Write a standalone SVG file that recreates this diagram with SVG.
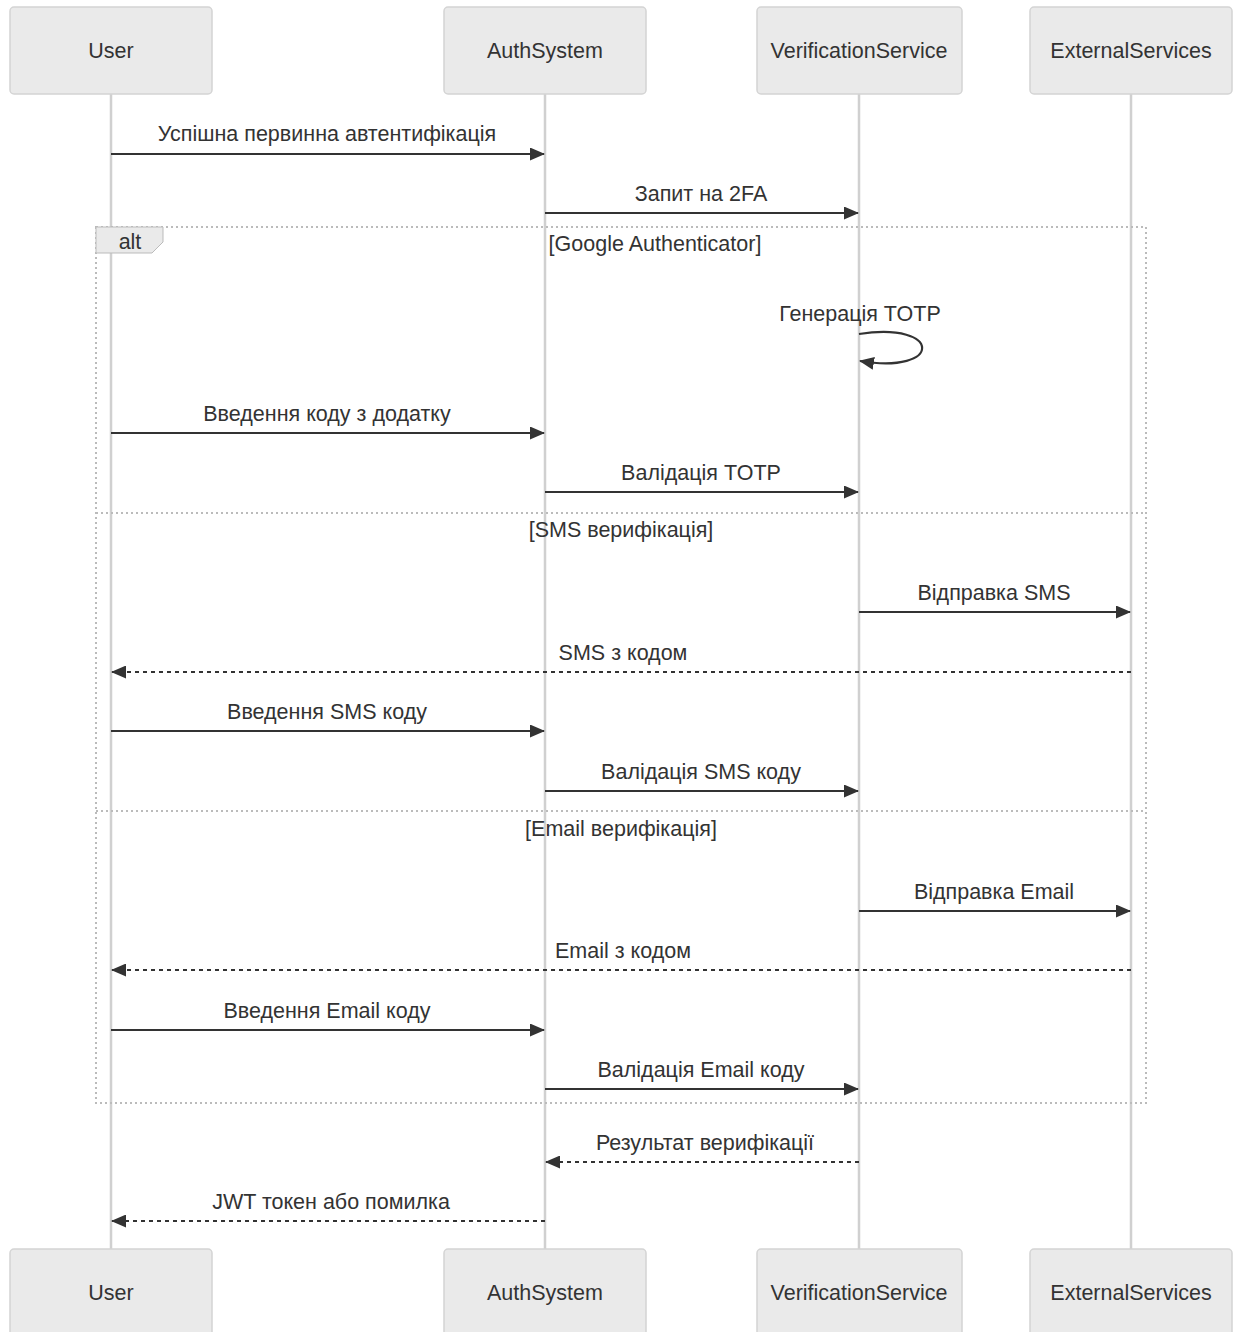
<svg xmlns="http://www.w3.org/2000/svg" width="1235" height="1332" viewBox="0 0 1235 1332">
<style>
.actor{fill:#eaeaea;stroke:#d4d4d4;stroke-width:1.5}
.atext{font-family:"Liberation Sans",Arial,sans-serif;font-size:21.5px;fill:#333;text-anchor:middle;dominant-baseline:central}
.life{stroke:#d0d0d0;stroke-width:2.5}
.msg{stroke:#333;stroke-width:2.2;fill:none}
.dash{stroke-dasharray:4 4}
.mtext{font-family:"Liberation Sans",Arial,sans-serif;font-size:21.5px;fill:#333;text-anchor:middle}
.loop{stroke:#bbb;stroke-width:2;fill:none;stroke-dasharray:2 3}
.ltext{font-family:"Liberation Sans",Arial,sans-serif;font-size:21.5px;fill:#333;text-anchor:middle}
</style>
<defs>
<marker id="arr" markerWidth="15" markerHeight="13" refX="14" refY="6.5" orient="auto" markerUnits="userSpaceOnUse">
<path d="M0,0 L15,6.5 L0,13 z" fill="#333"/>
</marker>
</defs>
<g id="lifelines">
<line class="life" x1="111" y1="94" x2="111" y2="1249"/>
<line class="life" x1="545" y1="94" x2="545" y2="1249"/>
<line class="life" x1="859" y1="94" x2="859" y2="1249"/>
<line class="life" x1="1131" y1="94" x2="1131" y2="1249"/>
</g>
<g id="actor-user-top"><rect class="actor" x="10" y="7" width="202" height="87" rx="4"/><text class="atext" x="111" y="51">User</text></g>
<g id="actor-auth-top"><rect class="actor" x="444" y="7" width="202" height="87" rx="4"/><text class="atext" x="545" y="51">AuthSystem</text></g>
<g id="actor-verif-top"><rect class="actor" x="757" y="7" width="205" height="87" rx="4"/><text class="atext" x="859" y="51">VerificationService</text></g>
<g id="actor-ext-top"><rect class="actor" x="1030" y="7" width="202" height="87" rx="4"/><text class="atext" x="1131" y="51">ExternalServices</text></g>
<g id="actor-user-bottom"><rect class="actor" x="10" y="1249" width="202" height="87" rx="4"/><text class="atext" x="111" y="1293">User</text></g>
<g id="actor-auth-bottom"><rect class="actor" x="444" y="1249" width="202" height="87" rx="4"/><text class="atext" x="545" y="1293">AuthSystem</text></g>
<g id="actor-verif-bottom"><rect class="actor" x="757" y="1249" width="205" height="87" rx="4"/><text class="atext" x="859" y="1293">VerificationService</text></g>
<g id="actor-ext-bottom"><rect class="actor" x="1030" y="1249" width="202" height="87" rx="4"/><text class="atext" x="1131" y="1293">ExternalServices</text></g>
<g id="alt-frame">
<rect class="loop" x="96" y="227" width="1050" height="876"/>
<polygon points="96,227 163,227 163,242 152,253 96,253" fill="#eaeaea" stroke="#bbb" stroke-width="1"/>
<text class="ltext" x="130" y="249">alt</text>
<text class="ltext" x="655" y="251">[Google Authenticator]</text>
<line class="loop" x1="96" y1="513" x2="1146" y2="513"/>
<text class="ltext" x="621" y="537">[SMS верифікація]</text>
<line class="loop" x1="96" y1="811" x2="1146" y2="811"/>
<text class="ltext" x="621" y="836">[Email верифікація]</text>
</g>
<g id="connectors">
<line class="msg" x1="111" y1="154" x2="544" y2="154" marker-end="url(#arr)"/>
<text class="mtext" x="327" y="141">Успішна первинна автентифікація</text>
<line class="msg" x1="545" y1="213" x2="858" y2="213" marker-end="url(#arr)"/>
<text class="mtext" x="701" y="201">Запит на 2FA</text>
<path class="msg" d="M859,334 C943,321 943,375 860,361" marker-end="url(#arr)"/>
<text class="mtext" x="860" y="321">Генерація TOTP</text>
<line class="msg" x1="111" y1="433" x2="544" y2="433" marker-end="url(#arr)"/>
<text class="mtext" x="327" y="421">Введення коду з додатку</text>
<line class="msg" x1="545" y1="492" x2="858" y2="492" marker-end="url(#arr)"/>
<text class="mtext" x="701" y="480">Валідація TOTP</text>
<line class="msg" x1="859" y1="612" x2="1130" y2="612" marker-end="url(#arr)"/>
<text class="mtext" x="994" y="600">Відправка SMS</text>
<line class="msg dash" x1="1131" y1="672" x2="112" y2="672" marker-end="url(#arr)"/>
<text class="mtext" x="623" y="660">SMS з кодом</text>
<line class="msg" x1="111" y1="731" x2="544" y2="731" marker-end="url(#arr)"/>
<text class="mtext" x="327" y="719">Введення SMS коду</text>
<line class="msg" x1="545" y1="791" x2="858" y2="791" marker-end="url(#arr)"/>
<text class="mtext" x="701" y="779">Валідація SMS коду</text>
<line class="msg" x1="859" y1="911" x2="1130" y2="911" marker-end="url(#arr)"/>
<text class="mtext" x="994" y="899">Відправка Email</text>
<line class="msg dash" x1="1131" y1="970" x2="112" y2="970" marker-end="url(#arr)"/>
<text class="mtext" x="623" y="958">Email з кодом</text>
<line class="msg" x1="111" y1="1030" x2="544" y2="1030" marker-end="url(#arr)"/>
<text class="mtext" x="327" y="1018">Введення Email коду</text>
<line class="msg" x1="545" y1="1089" x2="858" y2="1089" marker-end="url(#arr)"/>
<text class="mtext" x="701" y="1077">Валідація Email коду</text>
<line class="msg dash" x1="859" y1="1162" x2="546" y2="1162" marker-end="url(#arr)"/>
<text class="mtext" x="705" y="1150">Результат верифікації</text>
<line class="msg dash" x1="545" y1="1221" x2="112" y2="1221" marker-end="url(#arr)"/>
<text class="mtext" x="331" y="1209">JWT токен або помилка</text>
</g>
</svg>
